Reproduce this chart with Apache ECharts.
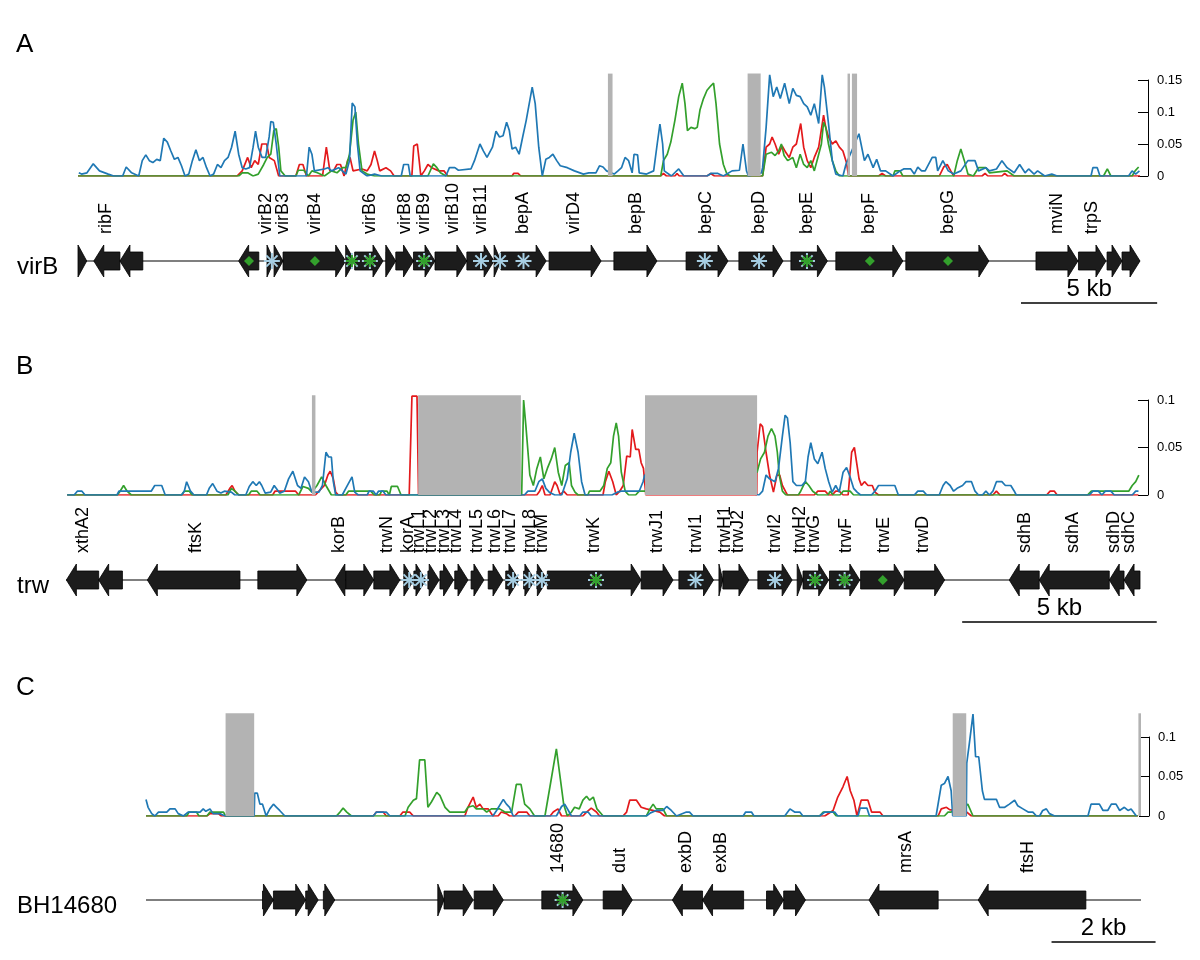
<!DOCTYPE html>
<html>
<head>
<meta charset="utf-8">
<script src="https://cdn.jsdelivr.net/npm/echarts@6/dist/echarts.min.js"></script>
<style>html,body{margin:0;background:#fff}#main{width:1200px;height:960px}</style>
</head>
<body>
<div id="main"></div>
<script>
// positions in kb along each locus, values are the plotted scores
const aBlue = [[0.03,0.005],[0.13,0.003],[0.33,0.005],[0.56,0.019],[0.79,0.008],[1.11,0.003],[1.31,0],[1.64,0],[1.77,0.014],[1.97,0.005],[2.23,0],[2.36,0.024],[2.49,0.033],[2.62,0.024],[2.75,0.021],[2.89,0.026],[3.02,0.024],[3.15,0.059],[3.28,0.053],[3.41,0.039],[3.54,0.026],[3.67,0.029],[3.80,0.016],[3.93,0],[4.07,0.003],[4.20,0.024],[4.33,0.041],[4.46,0.024],[4.59,0.029],[4.72,0.013],[4.85,0],[4.98,0.003],[5.12,0.018],[5.25,0.013],[5.38,0.024],[5.51,0.029],[5.64,0.045],[5.77,0.07],[5.90,0.034],[6.03,0.013],[6.16,0.011],[6.30,0.013],[6.43,0.045],[6.52,0.07],[6.62,0.045],[6.76,0.029],[6.89,0.029],[7.02,0.061],[7.08,0.085],[7.17,0.084],[7.28,0.05],[7.41,0],[8.39,0],[8.49,0.045],[8.59,0.034],[8.68,0.008],[9.05,0.011],[9.18,0.013],[9.31,0.008],[9.57,0.013],[9.84,0.003],[9.97,0.024],[10.07,0.114],[10.17,0.108],[10.26,0.05],[10.36,0.008],[10.62,0],[10.89,0.003],[11.15,0],[11.87,0],[11.96,0.018],[12.13,0.018],[12.20,0],[13.51,0],[13.64,0.013],[13.84,0.013],[13.97,0.009],[14.43,0.011],[14.56,0.024],[14.76,0.05],[14.89,0.039],[15.02,0.029],[15.22,0.045],[15.35,0.07],[15.48,0.061],[15.61,0.063],[15.74,0.084],[15.84,0.071],[15.94,0.042],[16.07,0.045],[16.20,0.034],[16.33,0.061],[16.46,0.087],[16.68,0.139],[16.79,0.113],[16.92,0.045],[17.05,0],[17.18,0.026],[17.31,0.029],[17.44,0.034],[17.58,0.024],[17.71,0.016],[17.97,0.013],[18.23,0.008],[18.56,0.003],[18.76,0.005],[19.02,0.005],[19.15,0.016],[19.28,0.014],[19.41,0.008],[19.69,0.003],[19.83,0.008],[19.96,0.013],[20.09,0.029],[20.22,0.024],[20.35,0.005],[20.42,0.034],[20.55,0.033],[20.61,0.005],[20.88,0.003],[21.14,0.008],[21.27,0.05],[21.37,0.081],[21.47,0.05],[21.53,0.008],[21.79,0],[22.06,0.011],[22.25,0],[23.10,0],[23.24,0.004],[23.50,0.004],[23.70,0],[24.02,0.008],[24.29,0.009],[24.42,0.05],[24.48,0.05],[24.55,0.008],[24.62,0],[25.10,0.005],[25.14,0.013],[25.27,0.076],[25.40,0.158],[25.53,0.124],[25.66,0.139],[25.79,0.121],[25.95,0.145],[26.12,0.113],[26.25,0.137],[26.38,0.126],[26.52,0.124],[26.65,0.113],[26.78,0.108],[26.91,0.095],[27.04,0.113],[27.20,0.082],[27.33,0.158],[27.41,0.139],[27.56,0.082],[27.70,0.024],[27.83,0.003],[28.09,0],[28.20,0.018],[28.68,0.066],[28.75,0.063],[28.88,0.024],[29.01,0.034],[29.20,0.013],[29.33,0.026],[29.47,0.008],[29.66,0.008],[29.93,0],[30.19,0.008],[30.32,0.011],[30.58,0.011],[30.71,0.003],[30.84,0.014],[30.98,0.008],[31.11,0.008],[31.37,0.029],[31.50,0.029],[31.57,0.008],[31.76,0.024],[31.96,0.008],[32.16,0.003],[32.42,0.008],[32.68,0.024],[32.94,0.024],[33.07,0.008],[33.34,0.013],[33.47,0.008],[33.73,0.011],[33.93,0.024],[34.12,0.013],[34.38,0.005],[34.58,0.018],[34.78,0.005],[34.91,0.011],[35.11,0.003],[35.24,0.008],[35.50,0],[35.76,0.003],[35.96,0],[37.20,0],[37.27,0.013],[37.43,0.013],[37.53,0],[38.58,0],[38.71,0.008],[38.84,0.003],[38.98,0.008]];
const aRed = [[0,0],[5.84,0],[6.03,0.008],[6.23,0.029],[6.36,0.013],[6.49,0.024],[6.62,0.018],[6.75,0.05],[6.93,0.05],[7.02,0.029],[7.21,0.024],[7.37,0],[8.0,0],[8.13,0.018],[8.26,0.018],[8.39,0],[8.98,0],[9.12,0.045],[9.25,0.008],[9.38,0.008],[9.51,0.018],[9.64,0.018],[9.77,0],[9.90,0.024],[9.99,0.029],[10.10,0.008],[10.43,0.011],[10.62,0.008],[10.76,0.018],[10.89,0.039],[10.99,0.024],[11.08,0.008],[11.31,0.013],[11.48,0.008],[11.61,0],[12.26,0],[12.33,0.047],[12.46,0.05],[12.53,0.024],[12.59,0],[12.72,0.008],[12.85,0.018],[12.99,0.013],[13.25,0.008],[13.44,0.008],[13.58,0],[15.94,0],[16.0,0.004],[16.16,0.004],[16.26,0],[21.40,0],[21.50,0.004],[21.61,0],[21.92,0],[22.0,0.004],[22.08,0],[23.10,0],[23.24,0.004],[23.37,0],[25.14,0],[25.27,0.045],[25.40,0.05],[25.49,0.061],[25.60,0.05],[25.73,0.034],[25.86,0.047],[25.99,0.037],[26.12,0.029],[26.25,0.045],[26.38,0.05],[26.54,0.082],[26.65,0.045],[26.78,0.024],[26.91,0.013],[27.04,0.029],[27.20,0.045],[27.38,0.095],[27.46,0.076],[27.56,0.061],[27.70,0.05],[27.83,0.055],[27.96,0.045],[28.09,0.039],[28.22,0.021],[28.30,0],[29.40,0],[29.53,0.004],[29.66,0],[31.63,0],[31.79,0.014],[31.92,0.018],[32.05,0.008],[32.16,0],[33.20,0],[33.31,0.004],[33.41,0],[33.93,0],[34.03,0.004],[34.14,0],[39,0]];
const aGreen = [[0,0],[5.90,0],[6.03,0.005],[6.23,0.005],[6.43,0],[6.62,0.003],[6.82,0.018],[6.95,0.029],[7.08,0.034],[7.19,0.071],[7.28,0.074],[7.37,0.045],[7.45,0.008],[7.61,0],[8.0,0],[8.09,0.009],[8.29,0.009],[8.46,0],[8.59,0.008],[8.79,0.005],[9.05,0],[9.31,0.008],[9.51,0.005],[9.71,0.013],[9.84,0.013],[9.97,0.034],[10.10,0.087],[10.20,0.1],[10.30,0.05],[10.43,0.008],[10.62,0.003],[10.89,0],[12.85,0],[13.05,0.019],[13.18,0.013],[13.31,0.005],[13.51,0],[21.40,0],[21.50,0.024],[21.64,0.034],[21.77,0.053],[21.92,0.087],[22.06,0.124],[22.19,0.145],[22.29,0.113],[22.38,0.071],[22.51,0.076],[22.65,0.074],[22.74,0.076],[22.84,0.103],[22.97,0.121],[23.10,0.134],[23.24,0.141],[23.34,0.145],[23.43,0.113],[23.56,0.05],[23.70,0.018],[23.83,0.003],[23.96,0],[25.14,0],[25.27,0.034],[25.47,0.037],[25.60,0.032],[25.73,0.039],[25.83,0.05],[25.93,0.032],[26.06,0.024],[26.25,0.029],[26.38,0.013],[26.52,0.034],[26.65,0.018],[26.78,0.013],[26.91,0.024],[27.04,0.008],[27.17,0.029],[27.30,0.05],[27.38,0.084],[27.46,0.076],[27.56,0.05],[27.70,0.024],[27.83,0.008],[27.96,0],[29.93,0],[30.0,0.008],[30.19,0.008],[30.29,0],[32.16,0],[32.29,0.024],[32.42,0.042],[32.55,0.024],[32.68,0.003],[32.88,0],[33.07,0.013],[33.34,0.013],[33.47,0.005],[34.12,0.008],[34.38,0],[37.66,0],[37.80,0.011],[37.93,0],[38.71,0],[38.82,0.008],[38.95,0.014]];
const aGray = [[19.46,19.63],[24.59,25.07],[28.26,28.35],[28.42,28.61]];
// genes: start, end, strand
const aGenes = [[0,0.32,1],[0.58,1.54,-1],[1.54,2.38,-1],[5.90,6.64,-1],[6.94,7.20,1],[7.20,7.53,1],[7.53,9.83,1],[9.83,10.16,1],[10.16,11.20,1],[11.30,11.67,1],[11.67,12.32,1],[12.32,13.11,1],[13.11,14.28,1],[14.28,15.28,1],[15.28,15.53,1],[15.53,17.19,1],[17.30,19.21,1],[19.68,21.26,1],[22.33,23.87,1],[24.27,25.89,1],[26.18,27.52,1],[27.83,30.29,1],[30.40,33.45,1],[35.18,36.72,1],[36.74,37.75,1],[37.79,38.34,1],[38.34,39.0,1]];
const aLabels = [['ribF',1.03],['virB2',6.90],['virB3',7.53],['virB4',8.70],['virB6',10.72],['virB8',12.01],['virB9',12.70],['virB10',13.77],['virB11',14.80],['bepA',16.36],['virD4',18.21],['bepB',20.49],['bepC',23.06],['bepD',25.01],['bepE',26.77],['bepF',29.05],['bepG',31.95],['mviN',35.95],['trpS',37.23]];
// d = diamond, b = light blue star, g = green star
const aMarks = [[6.28,'d'],[7.12,'b'],[8.70,'d'],[10.06,'g'],[10.72,'g'],[12.71,'g'],[14.80,'b'],[15.50,'b'],[16.36,'b'],[23.02,'b'],[25.01,'b'],[26.77,'g'],[29.08,'d'],[31.95,'d']];
const aScale = [34.63, 39.63, '5 kb'];

const bBlue = [[0.03,0],[0.21,0],[0.29,0.004],[0.41,0.004],[0.49,0],[1.31,0],[1.36,0.004],[2.05,0.004],[2.19,0.004],[2.28,0.010],[2.46,0.010],[2.55,0],[2.97,0],[3.04,0.004],[3.10,0.014],[3.20,0.004],[3.29,0],[3.61,0],[3.68,0.007],[3.77,0.012],[3.88,0.004],[3.98,0.002],[4.07,0.004],[4.25,0.003],[4.34,0],[4.62,0],[4.71,0.009],[4.80,0.014],[4.89,0.010],[4.97,0.014],[5.03,0.010],[5.12,0.002],[5.26,0.003],[5.35,0.010],[5.49,0.002],[5.61,0.004],[5.72,0.017],[5.83,0.025],[5.95,0.010],[6.04,0.007],[6.13,0.019],[6.23,0.014],[6.32,0.003],[6.50,0.003],[6.59,0.010],[6.68,0.045],[6.75,0.040],[6.82,0.040],[6.87,0.014],[6.93,0],[7.10,0],[7.19,0.007],[7.35,0.019],[7.42,0.003],[7.51,0],[7.74,0],[7.79,0.004],[7.90,0.004],[7.97,0],[8.03,0.004],[8.15,0.004],[8.22,0],[11.78,0],[11.87,0.004],[12.05,0.004],[12.15,0.014],[12.24,0.017],[12.33,0.007],[12.42,0.003],[12.56,0],[12.74,0],[12.88,0.017],[12.97,0.045],[13.06,0.065],[13.16,0.045],[13.25,0.014],[13.34,0],[14.03,0],[14.17,0.003],[14.27,0.004],[14.73,0.004],[14.83,0.014],[14.87,0.021],[17.81,0],[17.90,0.004],[17.99,0.021],[18.08,0.017],[18.22,0.014],[18.31,0.028],[18.41,0.062],[18.48,0.084],[18.54,0.081],[18.61,0.055],[18.68,0.014],[18.77,0.010],[18.91,0.010],[19.00,0.014],[19.07,0.040],[19.14,0.055],[19.23,0.038],[19.32,0.033],[19.43,0.045],[19.51,0.028],[19.60,0.014],[19.69,0.003],[19.78,0.010],[19.87,0.003],[19.97,0.024],[20.06,0.029],[20.15,0.019],[20.24,0.007],[20.33,0.003],[20.42,0],[20.70,0],[20.79,0.004],[20.88,0.010],[21.30,0.010],[21.39,0],[21.80,0],[21.89,0.004],[22.03,0.004],[22.12,0],[22.44,0],[22.54,0.010],[22.61,0.014],[22.72,0.010],[22.81,0.004],[22.90,0.007],[23.04,0.010],[23.13,0.014],[23.27,0.014],[23.36,0.004],[23.45,0],[23.55,0],[23.64,0.004],[23.73,0],[23.82,0.004],[23.91,0.014],[24.05,0.014],[24.14,0.010],[24.28,0.010],[24.37,0.004],[24.42,0],[26.30,0],[26.39,0.004],[26.53,0.004],[26.62,0],[26.71,0.004],[26.85,0.004],[26.94,0],[27.40,0],[27.49,0.004],[27.56,0.004]];
const bRed = [[0.03,0],[4.11,0],[4.21,0.007],[4.27,0.010],[4.34,0.004],[4.44,0],[5.31,0],[5.37,0.004],[5.90,0.004],[5.98,0],[6.41,0],[6.50,0.004],[6.64,0.010],[6.73,0.021],[6.79,0.025],[6.87,0.017],[6.93,0.003],[7.00,0],[8.82,0],[8.89,0.104],[9.02,0.104],[9.06,0],[11.73,0],[12.10,0],[12.17,0.004],[12.24,0.010],[12.31,0],[12.44,0],[12.56,0.014],[12.62,0.010],[12.70,0],[12.79,0.004],[12.88,0],[13.80,0],[13.86,0.014],[13.95,0.025],[14.05,0.014],[14.14,0],[14.23,0.004],[14.32,0.010],[14.41,0.041],[14.50,0.040],[14.55,0.069],[14.64,0.048],[14.72,0.048],[14.78,0.034],[14.84,0.028],[14.90,0],[17.75,0],[17.76,0.045],[17.84,0.075],[17.90,0.072],[17.99,0.045],[18.08,0.021],[18.18,0.003],[18.27,0.021],[18.34,0.021],[18.41,0.010],[18.50,0.003],[18.54,0],[19.23,0],[19.32,0.004],[19.51,0.004],[19.60,0],[19.69,0],[19.78,0.004],[19.87,0.004],[19.97,0],[20.10,0],[20.19,0.045],[20.26,0.05],[20.31,0.048],[20.38,0.017],[20.44,0.010],[20.52,0.014],[20.61,0.010],[20.72,0.010],[20.79,0.003],[20.88,0],[23.82,0],[23.91,0.004],[24.00,0],[25.20,0],[25.29,0.004],[25.40,0.004],[25.47,0],[27.56,0]];
const bGreen = [[0.03,0],[1.32,0],[1.39,0.004],[1.48,0.010],[1.57,0.004],[1.68,0],[2.97,0],[3.04,0.004],[3.17,0.004],[3.24,0],[4.16,0],[4.25,0.007],[4.34,0.004],[4.44,0],[4.69,0],[4.76,0.004],[4.91,0.004],[4.99,0],[5.98,0],[6.09,0.009],[6.23,0.007],[6.32,0.003],[6.45,0.010],[6.57,0.019],[6.68,0.010],[6.82,0],[7.19,0],[7.26,0.004],[7.83,0.004],[7.92,0],[8.06,0],[8.11,0.004],[8.25,0.004],[8.31,0],[8.36,0.009],[8.52,0.009],[8.61,0],[11.71,0],[11.76,0.1],[11.82,0.072],[11.92,0.021],[12.01,0.010],[12.10,0.028],[12.19,0.040],[12.28,0.017],[12.37,0.028],[12.47,0.038],[12.56,0.050],[12.65,0.024],[12.74,0.010],[12.83,0.031],[12.93,0.034],[12.99,0.010],[13.08,0.003],[13.16,0],[13.41,0],[13.45,0.004],[13.72,0.004],[13.82,0.010],[13.91,0.028],[14.00,0.034],[14.07,0.062],[14.14,0.076],[14.20,0.062],[14.27,0.024],[14.37,0.004],[14.46,0],[14.64,0],[14.73,0.004],[14.87,0.004],[17.76,0.024],[17.85,0.038],[17.95,0.045],[18.04,0.062],[18.13,0.070],[18.22,0.062],[18.28,0.045],[18.33,0.021],[18.41,0.004],[18.50,0],[18.82,0],[18.88,0.004],[19.00,0.014],[19.09,0.010],[19.19,0.004],[19.32,0],[19.58,0],[19.64,0.004],[19.71,0],[19.89,0],[19.97,0.004],[20.15,0.004],[20.24,0],[26.25,0],[26.35,0.004],[27.31,0.004],[27.40,0.010],[27.49,0.014],[27.57,0.021]];
const bGray = [[6.32,6.41],[9.05,11.69],[14.88,17.76]];
const bGenes = [[0.01,0.84,-1],[0.84,1.45,-1],[2.09,4.47,-1],[4.93,6.19,1],[6.91,7.19,-1],[7.19,7.91,1],[7.91,8.58,1],[8.68,8.94,1],[8.94,9.25,1],[9.30,9.59,1],[9.61,9.96,1],[9.99,10.33,1],[10.41,10.74,1],[10.85,11.23,1],[11.30,11.64,1],[11.76,12.05,1],[12.10,12.37,1],[12.37,14.78,1],[14.78,15.60,1],[15.75,16.64,1],[16.78,16.88,1],[16.88,17.55,1],[17.78,18.66,1],[18.79,18.94,1],[18.94,19.60,1],[19.62,20.40,1],[20.42,21.54,1],[21.54,22.58,1],[24.24,25.01,-1],[25.01,26.81,-1],[26.81,27.19,-1],[27.19,27.60,-1]];
const bLabels = [['xthA2',0.44],['ftsK',3.34],['korB',7.01],['trwN',8.25],['korA',8.79],['trwL1',9.07],['trwL2',9.38],['trwL3',9.71],['trwL4',10.02],['trwL5',10.56],['trwL6',11.03],['trwL7',11.41],['trwL8',11.92],['trwM',12.23],['trwK',13.57],['trwJ1',15.19],['trwI1',16.19],['trwH1',16.94],['trwJ2',17.26],['trwI2',18.22],['trwH2',18.86],['trwG',19.22],['trwF',20.05],['trwE',21.03],['trwD',22.03],['sdhB',24.65],['sdhA',25.88],['sdhD',26.93],['sdhC',27.31]];
const bMarks = [[8.82,'b'],[9.12,'b'],[11.49,'b'],[11.91,'b'],[12.23,'b'],[13.62,'g'],[16.18,'b'],[18.22,'b'],[19.25,'g'],[20.01,'g'],[20.99,'d']];
const bScale = [23.03, 28.03, '5 kb'];

const cBlue = [[0,0.021],[0.04,0.011],[0.11,0.003],[0.17,0],[0.24,0.005],[0.40,0.005],[0.46,0.009],[0.56,0.009],[0.62,0.003],[0.72,0],[0.81,0.005],[1.04,0.005],[1.10,0.009],[1.15,0.006],[1.23,0.009],[1.29,0.003],[1.42,0.003],[1.52,0],[2.08,0],[2.09,0.029],[2.14,0.029],[2.19,0.015],[2.24,0.015],[2.31,0],[2.38,0.009],[2.45,0.015],[2.51,0.011],[2.57,0.007],[2.67,0],[4.37,0],[4.43,0.005],[4.62,0.005],[4.69,0],[6.67,0],[6.74,0.007],[6.87,0.021],[6.93,0.015],[6.99,0.011],[7.06,0],[7.89,0],[7.99,0.012],[8.05,0.015],[8.12,0.007],[8.18,0],[8.34,0],[8.40,0.005],[8.50,0.005],[8.56,0],[9.62,0],[9.70,0.004],[9.81,0.007],[9.94,0.007],[10.01,0.012],[10.10,0.007],[10.20,0],[10.39,0.005],[10.45,0.005],[10.52,0],[11.48,0],[11.53,0.005],[11.64,0.005],[11.69,0],[12.28,0],[12.38,0.009],[12.47,0.005],[12.57,0.005],[12.63,0],[12.95,0],[13.05,0.005],[13.24,0.005],[13.30,0],[13.69,0],[13.73,0.010],[13.86,0.010],[13.91,0],[15.19,0],[15.29,0.039],[15.35,0.041],[15.42,0.050],[15.48,0.032],[15.51,0],[15.77,0],[15.78,0.067],[15.83,0.092],[15.90,0.129],[15.95,0.075],[16.01,0.075],[16.08,0.032],[16.12,0.021],[16.35,0.021],[16.41,0.011],[16.51,0.011],[16.60,0.015],[16.70,0.020],[16.76,0.013],[16.86,0.009],[16.96,0.005],[17.05,0.005],[17.12,0],[17.18,0],[17.24,0.007],[17.31,0.009],[17.37,0.003],[17.47,0],[18.11,0],[18.17,0.015],[18.33,0.015],[18.40,0.007],[18.49,0.007],[18.56,0.015],[18.65,0.015],[18.72,0.007],[18.81,0.011],[18.88,0.007],[18.94,0.009],[19.04,0]];
const cRed = [[0,0],[1.17,0],[1.23,0.003],[1.39,0.003],[1.45,0],[4.37,0],[4.43,0.005],[4.56,0.005],[4.62,0],[4.88,0],[4.94,0.005],[5.07,0.005],[5.14,0],[6.13,0],[6.19,0.011],[6.29,0.024],[6.35,0.011],[6.42,0.015],[6.48,0.009],[6.58,0.009],[6.67,0],[6.77,0],[6.83,0.005],[6.93,0.003],[6.99,0],[7.09,0],[7.16,0.005],[7.32,0.005],[7.38,0],[7.77,0],[7.83,0.005],[7.92,0.009],[7.99,0],[8.40,0],[8.47,0.005],[8.56,0.010],[8.66,0.005],[8.72,0],[9.17,0],[9.24,0.005],[9.30,0.020],[9.43,0.020],[9.52,0.011],[9.62,0.009],[9.88,0.005],[9.97,0],[13.05,0],[13.21,0.007],[13.30,0.024],[13.40,0.037],[13.48,0.050],[13.54,0.032],[13.61,0.020],[13.67,0],[13.75,0.020],[13.88,0.020],[13.95,0.005],[14.11,0.005],[14.17,0],[15.23,0],[15.29,0.009],[15.39,0.011],[15.45,0.008],[15.78,0.005],[15.87,0],[19.07,0]];
const cGreen = [[0,0],[0.78,0],[0.83,0.005],[0.97,0.005],[1.02,0],[1.17,0],[1.23,0.005],[1.49,0.005],[1.53,0],[2.70,0],[3.66,0],[3.73,0.005],[3.79,0.010],[3.86,0.005],[3.95,0],[4.98,0],[5.04,0.011],[5.14,0.020],[5.20,0.022],[5.26,0.071],[5.36,0.071],[5.42,0.011],[5.49,0.018],[5.59,0.030],[5.65,0.026],[5.75,0.011],[5.84,0.005],[6.13,0.005],[6.19,0.011],[6.29,0.013],[6.35,0.009],[6.48,0.009],[6.55,0.005],[6.64,0.009],[6.80,0.009],[6.90,0.005],[7.03,0.005],[7.12,0.040],[7.21,0.040],[7.28,0.015],[7.38,0.009],[7.47,0],[7.67,0],[7.80,0.050],[7.89,0.085],[7.97,0.045],[8.03,0.015],[8.10,0],[8.18,0.005],[8.24,0.011],[8.33,0.009],[8.40,0.020],[8.47,0.025],[8.53,0.020],[8.60,0.024],[8.67,0.009],[8.79,0],[9.62,0],[9.69,0.009],[9.75,0.015],[9.81,0.009],[9.94,0.009],[10.01,0],[12.95,0],[13.02,0.005],[13.21,0.005],[13.27,0],[15.35,0],[15.42,0.005],[15.48,0.005],[15.80,0.015],[15.90,0],[19.07,0]];
const cGray = [[1.53,2.08],[15.51,15.77],[19.08,19.13]];
const cGenes = [[2.24,2.45,1],[2.45,3.07,1],[3.07,3.31,1],[3.41,3.63,1],[5.61,5.73,1],[5.73,6.29,1],[6.31,6.87,1],[7.61,8.40,1],[8.79,9.35,1],[10.12,10.70,-1],[10.70,11.49,-1],[11.93,12.26,1],[12.26,12.68,1],[13.90,15.23,-1],[16.00,18.07,-1]];
const cLabels = [['14680',7.92],['dut',9.11],['exbD',10.39],['exbB',11.06],['mrsA',14.62],['ftsH',16.95]];
const cMarks = [[8.01,'g']];
const cScale = [17.41, 19.41, '2 kb'];

const FONT = '"Liberation Sans", Arial, Helvetica, sans-serif';
const BLUE = '#1f78b4', RED = '#e31a1c', GREEN = '#33a02c', LIGHT = '#a6cee3';

// layout of each panel (pixels)
const panels = [
  {letter: 'A', name: 'virB', blue: aBlue, red: aRed, green: aGreen, gray: aGray, genes: aGenes, labels: aLabels, marks: aMarks, scale: aScale,
   left: 78, width: 1062, xMax: 39, yMax: 0.16, axisMax: 0.15, ppu: 640, base: 176, track: 261, letterY: 45},
  {letter: 'B', name: 'trw', blue: bBlue, red: bRed, green: bGreen, gray: bGray, genes: bGenes, labels: bLabels, marks: bMarks, scale: bScale,
   left: 66, width: 1074, xMax: 27.6, yMax: 0.105, axisMax: 0.1, ppu: 950, base: 495, track: 580, letterY: 367},
  {letter: 'C', name: 'BH14680', blue: cBlue, red: cRed, green: cGreen, gray: cGray, genes: cGenes, labels: cLabels, marks: cMarks, scale: cScale,
   left: 146, width: 995, xMax: 19.13, yMax: 0.13, axisMax: 0.1, ppu: 790, base: 816, track: 900, letterY: 688}
];

function star(cx, cy, r, color) {
  return [0, 45, 90, 135].map(a => {
    const t = a * Math.PI / 180;
    return {type: 'line', shape: {x1: cx - r * Math.cos(t), y1: cy - r * Math.sin(t), x2: cx + r * Math.cos(t), y2: cy + r * Math.sin(t)},
            style: {stroke: color, lineWidth: 2}};
  });
}

const option = {animation: false, backgroundColor: '#fff', grid: [], xAxis: [], yAxis: [], series: [], graphic: []};

panels.forEach(p => {
  const g = option.grid.length;
  const gridBase = {left: p.left, width: p.width, containLabel: false, outerBoundsMode: 'none'};
  option.grid.push(Object.assign({top: p.base - p.yMax * p.ppu, height: p.yMax * p.ppu}, gridBase));
  option.grid.push(Object.assign({top: p.base - p.axisMax * p.ppu, height: p.axisMax * p.ppu}, gridBase));
  option.grid.push(Object.assign({top: p.track - 40, height: 80}, gridBase));
  for (let k = 0; k < 3; k++) {
    option.xAxis.push({type: 'value', gridIndex: g + k, min: 0, max: p.xMax, show: false});
  }
  option.yAxis.push({type: 'value', gridIndex: g, min: 0, max: p.yMax, show: false});
  option.yAxis.push({
    type: 'value', gridIndex: g + 1, min: 0, max: p.axisMax, interval: 0.05, position: 'right', offset: 8,
    axisLine: {show: true, onZero: false, lineStyle: {color: '#000', width: 1}},
    axisTick: {show: true, inside: true, length: 10, lineStyle: {color: '#000', width: 1}},
    axisLabel: {color: '#000', fontSize: 13, fontFamily: FONT, margin: 9},
    splitLine: {show: false}
  });
  option.yAxis.push({type: 'value', gridIndex: g + 2, min: -1, max: 1, show: false});

  // score lines
  [[p.red, RED], [p.green, GREEN], [p.blue, BLUE]].forEach(([d, c], j) => {
    option.series.push({type: 'line', xAxisIndex: g, yAxisIndex: g, data: d, symbol: 'none', silent: true,
      lineStyle: {color: c, width: 1.7}, itemStyle: {color: c}, z: 2 + j});
  });
  // masked regions
  option.series.push({type: 'custom', xAxisIndex: g, yAxisIndex: g, data: p.gray, z: 6, silent: true, clip: false,
    renderItem: (params, api) => {
      const a = api.coord([api.value(0), p.yMax]);
      const b = api.coord([api.value(1), 0]);
      return {type: 'rect', shape: {x: a[0], y: a[1], width: Math.max(b[0] - a[0], 1.5), height: b[1] - a[1]}, style: {fill: '#b3b3b3'}};
    }});
  option.series.push({type: 'line', xAxisIndex: g + 1, yAxisIndex: g + 1, data: []});

  // gene track
  option.series.push({type: 'line', xAxisIndex: g + 2, yAxisIndex: g + 2, data: [[0, 0], [p.xMax, 0]], symbol: 'none', silent: true,
    lineStyle: {color: '#000', width: 1.2}, z: 1});
  option.series.push({type: 'custom', xAxisIndex: g + 2, yAxisIndex: g + 2, data: p.genes, z: 3, silent: true, clip: false,
    renderItem: (params, api) => {
      const s = api.coord([api.value(0), 0]);
      const e = api.coord([api.value(1), 0]);
      const y = s[1];
      const h = Math.min(10, e[0] - s[0]);
      let pts;
      if (api.value(2) > 0) {
        const b = e[0] - h;
        pts = [[s[0], y - 9], [b, y - 9], [b, y - 16], [e[0], y], [b, y + 16], [b, y + 9], [s[0], y + 9]];
      } else {
        const b = s[0] + h;
        pts = [[e[0], y - 9], [b, y - 9], [b, y - 16], [s[0], y], [b, y + 16], [b, y + 9], [e[0], y + 9]];
      }
      return {type: 'polygon', shape: {points: pts}, style: {fill: '#1c1c1c', stroke: '#000', lineWidth: 0.8}};
    }});
  option.series.push({type: 'custom', xAxisIndex: g + 2, yAxisIndex: g + 2, data: p.labels.map(l => [l[1], 0]), z: 4, silent: true, clip: false,
    renderItem: (params, api) => {
      const pt = api.coord([api.value(0), 0]);
      return {type: 'text', x: pt[0], y: pt[1] - 27, rotation: Math.PI / 2,
        style: {text: p.labels[params.dataIndex][0], fill: '#000', font: '18px ' + FONT, align: 'left', verticalAlign: 'middle'}};
    }});
  option.series.push({type: 'custom', xAxisIndex: g + 2, yAxisIndex: g + 2, data: p.marks.map(m => [m[0], 0]), z: 5, silent: true, clip: false,
    renderItem: (params, api) => {
      const pt = api.coord([api.value(0), 0]);
      const kind = p.marks[params.dataIndex][1];
      let children;
      if (kind === 'd') {
        children = [{type: 'polygon', shape: {points: [[pt[0], pt[1] - 5], [pt[0] + 5, pt[1]], [pt[0], pt[1] + 5], [pt[0] - 5, pt[1]]]}, style: {fill: GREEN}}];
      } else if (kind === 'b') {
        children = star(pt[0], pt[1], 8, LIGHT);
      } else {
        children = star(pt[0], pt[1], 8, LIGHT).concat(star(pt[0], pt[1], 6, GREEN));
      }
      return {type: 'group', children: children};
    }});
  // scale bar
  option.series.push({type: 'custom', xAxisIndex: g + 2, yAxisIndex: g + 2, data: [[p.scale[0], p.scale[1]]], z: 4, silent: true, clip: false,
    renderItem: (params, api) => {
      const a = api.coord([api.value(0), 0]);
      const b = api.coord([api.value(1), 0]);
      const y = a[1] + 42;
      return {type: 'group', children: [
        {type: 'line', shape: {x1: a[0], y1: y, x2: b[0], y2: y}, style: {stroke: '#000', lineWidth: 1.5}},
        {type: 'text', x: (a[0] + b[0]) / 2, y: y - 2, style: {text: p.scale[2], fill: '#000', font: '24px ' + FONT, align: 'center', verticalAlign: 'bottom'}}
      ]};
    }});

  option.graphic.push({type: 'text', x: 16, y: p.letterY, style: {text: p.letter, fill: '#000', font: '26px ' + FONT, verticalAlign: 'middle'}});
  option.graphic.push({type: 'text', x: 17, y: p.track + 6, style: {text: p.name, fill: '#000', font: '24px ' + FONT, verticalAlign: 'middle'}});
});

var myChart = echarts.init(document.getElementById('main'));
myChart.setOption(option);
</script>
</body>
</html>
